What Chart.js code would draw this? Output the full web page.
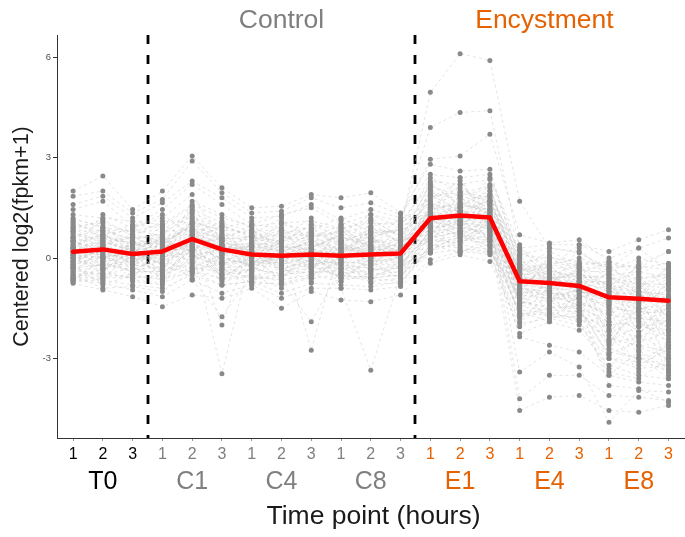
<!DOCTYPE html>
<html>
<head>
<meta charset="utf-8">
<script src="https://cdn.jsdelivr.net/npm/chart.js@4.4.1/dist/chart.umd.min.js"></script>
<style>
html,body{margin:0;padding:0;background:#fff;}
#wrap{width:685px;height:537px;position:relative;}
</style>
</head>
<body>
<div id="wrap"><canvas id="c" width="685" height="537"></canvas></div>
<script>
// ---- categories / labels ----
const groups = ["T0","C1","C4","C8","E1","E4","E8"];
const replicates = ["1","2","3"];
const groupColors = ["#000000","#7f7f7f","#7f7f7f","#7f7f7f","#E66100","#E66100","#E66100"];
const conditionLabels = ["Control","Encystment"];
const yTicks = [-3,0,3,6];
const dividers = [3.5,12.5];

// ---- mean profile (red line) ----
const meanProfile = [0.19,0.26,0.12, 0.2,0.57,0.26, 0.11,0.07,0.11, 0.07,0.11,0.14, 1.19,1.27,1.21, -0.69,-0.74,-0.83, -1.17,-1.21,-1.27];

// ---- individual gene profiles (gray) ----
const typicalGenes = [
 [0.15,0.25,0.05, 0.1,0.55,0.2, 0.05,0.0,0.1, 0.05,0.1,0.15, 1.2,1.25,1.2, -0.7,-0.75,-0.8, -1.15,-1.2,-1.25],
 [0.95,1.05,0.75, 0.85,1.35,0.95, 0.65,0.5,0.75, 0.55,0.75,0.85, 1.85,1.95,1.7, -0.25,-0.4,-0.5, -0.6,-0.75,-0.8],
 [-0.55,-0.45,-0.6, -0.5,-0.15,-0.35, -0.6,-0.5,-0.4, -0.45,-0.35,-0.3, 0.45,0.6,0.55, -1.3,-1.45,-1.5, -1.9,-2.05,-2.15],
 [0.5,0.65,0.4, 0.45,1.05,0.55, 0.35,0.2,0.45, 0.25,0.3,0.4, 1.5,1.6,1.45, -0.45,-0.6,-0.55, -0.9,-1.0,-1.1],
 [-0.2,0.05,-0.25, -0.1,0.3,0.0, -0.2,-0.3,-0.1, -0.15,-0.1,0.0, 0.9,1.05,0.95, -1.0,-1.05,-1.1, -1.5,-1.6,-1.65],
 [1.3,1.2,1.1, 1.0,1.6,1.2, 0.95,1.05,1.1, 0.9,1.05,1.0, 2.3,2.2,2.35, 0.1,0.0,-0.1, -0.2,-0.3,-0.15],
 [-0.7,-0.65,-0.8, -0.9,-0.5,-0.8, -0.7,-0.8,-0.6, -0.5,-0.6,-0.7, 0.3,0.4,0.25, -1.55,-1.65,-1.8, -2.4,-2.6,-2.8],
 [0.0,0.2,-0.1, 0.3,0.8,0.4, 0.2,0.1,0.0, 0.3,0.2,0.1, 1.1,1.2,1.0, -0.8,-0.9,-1.0, -1.1,-1.0,-1.2],
 [0.7,0.5,0.6, 0.6,0.9,0.7, 0.5,0.6,0.5, 0.6,0.5,0.6, 1.6,1.5,1.7, -0.2,-0.3,-0.3, -0.5,-0.4,-0.6],
 [-0.3,-0.2,-0.4, -0.4,0.1,-0.3, -0.2,-0.1,-0.3, -0.3,-0.2,-0.2, 0.8,0.9,0.8, -1.1,-1.2,-1.3, -1.7,-1.8,-1.9],
 [0.4,0.1,0.3, -0.2,0.4,0.6, -0.3,0.2,0.5, -0.1,0.4,0.2, 1.9,1.4,1.1, -0.6,-1.0,-0.7, -0.7,-1.4,-0.9],
 [-0.1,0.5,0.2, 0.6,0.2,-0.2, 0.4,-0.2,0.1, 0.5,-0.3,0.6, 0.7,1.7,1.3, -0.9,-0.5,-1.2, -1.8,-0.8,-1.5],
 [0.8,0.3,-0.2, 0.2,1.1,0.8, -0.1,0.3,-0.3, 0.2,0.8,-0.1, 2.1,1.0,1.6, -0.4,-1.3,-0.9, -1.3,-1.9,-2.3],
 [-0.4,-0.7,0.4, -0.6,0.0,0.3, 0.7,-0.4,0.2, -0.4,0.1,0.5, 1.3,0.8,2.0, -1.4,-0.7,-0.4, -0.4,-1.1,-0.6],
 [0.3,0.9,0.8, 1.0,0.5,-0.1, 0.2,0.8,0.6, 0.8,0.3,-0.2, 0.6,1.9,1.5, -0.1,-1.1,-1.4, -2.0,-2.4,-1.8],
 [1.0,0.8,-0.3, 0.5,1.4,0.0, 0.8,0.4,-0.4, 1.1,0.6,0.3, 1.4,2.4,0.9, -0.3,0.2,-0.2, -0.1,-0.5,-2.6],
 [-0.6,-0.1,0.0, -0.3,-0.4,-0.6, 0.0,-0.6,0.3, -0.2,-0.5,-0.4, 0.2,0.5,0.7, -1.7,-1.5,-1.2, -2.7,-3.0,-3.2],
 [0.6,-0.3,0.5, 0.1,0.7,1.1, -0.4,0.6,0.8, 0.0,0.9,0.7, 1.7,1.1,2.2, -0.9,-0.2,0.0, -0.3,-0.2,0.2],
 [0.2,1.3,0.9, 1.2,1.9,0.5, 1.0,0.9,0.3, 0.7,1.3,0.9, 2.4,2.0,1.8, 0.3,-0.3,0.4, 0.0,0.3,-0.4],
 [-0.5,0.3,-0.7, -0.8,0.5,-0.6, -0.5,-0.9,-0.2, -0.6,0.0,-0.8, 0.4,0.3,0.2, -1.2,-1.8,-1.6, -3.3,-2.2,-2.9],
 [0.1,-0.5,0.6, 0.7,-0.3,0.1, 0.5,0.0,-0.6, 0.4,-0.4,0.3, 1.0,0.7,0.6, -0.6,-0.6,-1.7, -0.8,-1.6,-3.0],
 [1.1,0.6,0.2, -0.4,1.2,0.9, 1.1,-0.2,0.9, 0.3,0.5,1.2, 1.3,1.8,1.3, -1.0,-0.1,-0.3, -1.0,-0.6,-0.5],
 [-0.2,-0.8,-0.5, 0.0,-0.6,0.2, -0.8,0.4,0.0, -0.5,-0.7,-0.6, 0.9,0.2,0.4, -1.6,-1.9,-1.0, -2.2,-3.4,-2.5],
 [0.4,0.7,1.0, 0.9,0.1,-0.5, 0.3,1.1,0.6, 1.0,0.2,0.0, 1.5,1.4,2.4, 0.4,-0.8,-0.6, -0.5,-1.2,-0.7],
 [-0.7,0.0,0.2, -0.7,0.6,0.4, -0.6,-0.3,-0.7, 0.1,-0.6,-0.5, 0.15,1.3,0.8, -1.8,-1.1,-1.9, -3.5,-2.8,-3.4],
 [0.9,0.4,-0.6, 0.3,0.4,1.0, 0.6,0.7,0.2, -0.3,1.1,0.4, 2.0,0.9,1.9, 0.2,-0.5,-1.1, -1.4,-0.1,-1.0],
 [0.0,-0.4,0.3, -0.2,1.5,-0.7, 0.1,-0.7,0.4, -0.7,0.0,-0.1, 1.2,0.6,1.0, -0.5,-1.4,-0.2, -2.5,-1.5,-1.6],
 [0.6,1.1,0.0, 0.6,-0.2,0.6, -0.2,0.5,1.0, 0.6,0.4,1.0, 1.8,2.3,1.2, -1.1,0.1,-0.8, -0.9,-2.0,-2.0],
 [-0.3,0.6,-0.4, 0.2,0.9,-0.1, 0.4,0.3,-0.5, -0.1,-0.2,0.3, 0.5,1.5,0.5, -0.7,-1.6,-1.3, -1.6,-2.9,-3.6],
 [0.3,-0.1,0.7, 0.5,0.3,0.4, -0.3,-0.5,0.7, 0.8,0.7,-0.4, 1.6,0.5,1.1, -1.3,-0.3,-1.5, -2.9,-0.4,-1.9],
 [1.2,0.9,0.5, 0.0,1.7,1.3, 0.9,0.6,1.2, 0.4,1.2,0.6, 2.2,1.6,2.0, 0.0,-0.9,0.3, -0.6,-0.9,-0.3],
 [-0.6,-0.3,-0.1, -0.4,-0.1,-0.5, -0.4,0.1,-0.1, -0.6,-0.1,-0.6, 0.6,0.8,0.3, -1.9,-1.3,-1.7, -2.1,-3.2,-2.7],
 [0.5,0.2,0.9, 1.3,0.7,0.2, 0.7,1.2,0.4, 0.2,0.9,0.5, 1.0,1.4,1.7, -0.4,-0.2,-1.0, -1.2,-0.9,-3.3],
 [-0.1,0.8,-0.2, -0.3,0.2,0.7, 0.2,-0.2,0.8, -0.4,0.6,-0.3, 0.3,1.0,0.9, -1.4,-0.9,-0.7, -2.6,-1.3,-2.4],
 [0.8,0.0,0.4, 0.4,1.0,-0.3, 0.0,0.9,-0.2, 0.9,-0.1,0.7, 1.4,1.2,0.4, -0.2,-1.2,-1.2, -0.7,-2.6,-1.4]
];
const moreTypicalGenes = [
 [0.25,0.45,0.35, 0.55,0.75,0.1, 0.45,0.35,0.25, 0.15,0.45,0.55, 1.35,1.1,1.55, -0.55,-0.95,-0.65, -1.35,-1.05,-1.75],
 [-0.45,-0.15,-0.35, -0.25,0.35,-0.45, -0.35,-0.45,-0.15, -0.2,-0.3,-0.45, 0.65,0.95,0.7, -1.25,-1.0,-1.45, -2.3,-1.7,-2.0],
 [0.65,0.85,0.55, 0.75,1.25,0.6, 0.55,0.75,0.9, 0.45,0.85,0.75, 1.95,1.75,1.85, -0.35,-0.15,-0.45, -0.8,-0.55,-1.3],
 [-0.05,-0.25,-0.05, 0.05,0.15,-0.15, -0.05,-0.15,0.15, 0.15,-0.05,-0.15, 0.75,1.15,0.85, -0.85,-1.15,-0.95, -1.55,-2.2,-1.7],
 [0.35,0.05,0.15, -0.05,0.65,0.35, 0.25,0.45,-0.05, 0.35,0.15,0.25, 1.25,1.45,1.05, -0.65,-0.45,-1.05, -0.95,-1.45,-2.1],
 [-0.25,0.15,-0.15, 0.35,0.45,-0.05, -0.15,0.05,-0.25, -0.05,0.25,-0.05, 1.05,1.35,1.25, -1.05,-0.85,-0.75, -1.9,-1.25,-1.15],
 [1.05,0.7,0.85, 0.65,1.45,1.05, 0.8,0.85,0.65, 0.75,0.95,1.1, 2.15,1.85,2.1, -0.15,0.05,-0.25, -0.35,-0.65,-0.45],
 [-0.6,-0.55,-0.5, -0.65,-0.25,-0.65, -0.55,-0.65,-0.5, -0.7,-0.45,-0.55, 0.35,0.55,0.45, -1.45,-1.55,-1.6, -2.55,-2.35,-3.1],
 [0.45,0.35,-0.05, 0.25,0.25,0.75, 0.6,0.1,0.35, 0.65,0.35,0.0, 1.45,1.65,1.35, -0.75,-0.65,-0.35, -1.25,-1.35,-0.95],
 [0.05,0.6,0.45, 0.45,0.95,0.15, -0.25,0.65,0.55, 0.05,0.55,0.35, 0.85,1.25,1.65, -0.95,-1.35,-0.85, -2.0,-1.9,-2.5],
 [-0.35,-0.5,-0.3, -0.55,0.05,-0.2, 0.15,-0.35,-0.45, -0.35,-0.25,0.05, 0.55,0.45,0.95, -1.35,-1.25,-1.55, -2.85,-2.5,-2.2],
 [0.85,1.15,0.65, 1.1,1.05,0.85, 0.75,0.45,1.0, 0.85,1.15,0.65, 1.75,2.1,1.6, 0.05,-0.55,-0.15, -0.25,-0.85,-0.55],
 [0.2,-0.2,-0.35, 0.0,0.55,0.5, -0.45,-0.05,0.2, -0.25,0.05,-0.35, 1.15,0.85,0.75, -0.5,-0.8,-1.35, -1.65,-1.15,-2.7],
 [-0.15,0.35,0.65, 0.15,-0.05,0.25, 0.35,0.55,-0.35, 0.55,-0.15,0.45, 0.95,1.55,1.45, -1.15,-0.35,-0.6, -0.55,-2.3,-1.2],
 [0.55,-0.05,0.1, 0.8,0.85,-0.25, 0.1,-0.25,0.65, 0.25,0.65,0.85, 1.65,0.75,1.15, -0.25,-1.05,-1.15, -1.05,-0.7,-1.85],
 [-0.55,-0.35,-0.65, -0.75,-0.35,-0.15, -0.65,-0.55,-0.25, -0.55,-0.55,-0.25, 0.25,0.65,0.35, -1.65,-1.7,-1.4, -3.0,-3.1,-2.6],
 [0.75,0.55,0.95, 0.3,1.15,0.65, 0.85,0.25,0.75, 0.45,0.05,0.95, 2.05,1.3,1.75, -0.45,-0.25,-0.85, -0.45,-1.6,-0.75],
 [0.0,0.05,-0.45, -0.35,0.7,0.45, 0.3,-0.35,-0.05, -0.15,0.35,-0.05, 1.25,1.0,0.65, -0.85,-1.25,-0.5, -1.45,-2.65,-3.0],
 [1.15,0.95,0.3, 0.95,1.55,0.35, 0.45,1.0,0.85, 1.2,0.8,0.5, 2.25,1.55,1.9, -0.05,-0.7,-0.4, -0.15,-1.1,-0.25],
 [-0.4,0.25,0.0, -0.45,0.25,-0.55, -0.1,-0.2,0.05, -0.45,-0.4,-0.15, 0.7,0.35,1.2, -1.5,-1.05,-1.25, -2.15,-1.55,-3.5],
 [0.3,0.75,0.25, 0.65,0.05,0.3, 0.0,0.6,0.15, 0.95,0.25,0.3, 1.05,1.85,0.85, -0.3,-0.5,-0.95, -0.65,-0.45,-2.2],
 [-0.65,-0.6,0.1, -0.15,-0.3,-0.4, -0.75,-0.75,-0.55, -0.05,-0.75,-0.75, 0.4,0.15,0.6, -1.75,-1.6,-1.85, -3.4,-3.6,-3.0],
 [0.6,0.4,0.7, 0.1,0.6,0.95, 0.7,0.15,0.3, 0.7,0.6,0.15, 1.55,1.95,2.15, -0.6,-0.05,-0.25, -0.85,-0.25,-0.35],
 [0.1,-0.35,0.2, 0.4,0.35,-0.35, -0.35,0.25,-0.15, 0.3,-0.35,-0.25, 0.6,1.1,0.55, -1.2,-0.75,-1.6, -2.45,-2.05,-1.45],
 [0.9,0.65,0.45, 0.55,0.85,0.55, 0.65,0.8,0.05, 0.1,0.75,0.8, 1.35,2.2,1.4, 0.25,-0.35,-0.7, -0.75,-1.8,-0.65],
 [-0.25,-0.6,-0.55, -0.6,-0.45,0.05, -0.25,-0.6,0.1, -0.6,-0.6,-0.5, 0.2,0.75,0.2, -1.1,-1.75,-1.75, -2.0,-2.75,-3.3]
];
const highGenes = [
 [2.0,2.45,1.45, 2.0,3.05,2.1, 1.5,1.55,1.9, 1.8,1.95,1.35, 2.8,2.6,2.65, -0.3,-0.6,-0.5, -0.8,-1.0,-1.1],
 [1.85,2.0,1.35, 1.75,2.9,1.95, 1.35,1.4,1.8, 1.5,1.65,1.3, 2.5,2.4,2.5, 0.1,0.3,0.2, -0.4,0.0,-0.2],
 [1.6,1.85,1.2, 1.65,2.3,1.8, 1.2,1.25,1.6, 1.15,1.45,1.2, 2.95,3.05,3.7, 0.7,0.45,0.55, -0.1,-0.3,0.2],
 [1.45,1.7,0.95, 1.45,2.2,1.6, 1.0,1.3,1.5, 1.0,1.3,1.1, 3.9,4.35,4.4, 0.3,0.4,0.4, 0.2,0.55,0.85]
];
const lowGenes = [
 [-0.75,-0.95,-1.15, -1.45,-1.1,-1.2, -0.9,-1.5,-1.0, -1.25,-1.3,-1.1, -0.15,0.1,-0.1, -2.05,-1.7,-1.9, -2.8,-3.0,-3.4],
 [-0.65,-0.75,-0.95, -1.15,-0.65,-1.05, -0.8,-1.2,-0.9, -0.9,-0.95,-0.85, -0.05,0.2,0.1, -1.95,-1.8,-2.0, -3.0,-3.3,-3.2],
 [-0.5,-0.9,-0.85, -1.0,-0.4,-0.8, -0.7,-1.05,-0.75, -0.8,-0.85,-0.7, 0.15,0.25,0.15, -2.25,-1.9,-2.15, -3.2,-3.5,-3.6]
];
const controlDipGenes = [
 [0.1,0.0,-0.3, -0.5,0.3,-3.45, 0.2,-0.4,-0.2, 0.0,0.3,0.1, 1.0,1.2,1.4, -0.6,-0.7,-0.7, -1.0,-1.1,-1.3],
 [-0.2,0.4,0.0, 0.6,-0.65,-1.75, -0.5,-0.7,-1.9, -0.3,-0.6,-0.2, 0.8,0.7,1.1, -0.9,-1.0,-1.2, -1.4,-1.7,-1.5],
 [0.3,-0.3,0.5, -0.2,0.5,-2.0, 0.6,0.4,-2.75, 0.5,-0.2,0.4, 1.3,1.5,0.9, -0.5,-0.4,-0.9, -1.1,-1.3,-0.8],
 [0.0,0.2,0.3, 0.2,0.6,-0.8, -0.2,0.0,0.3, -0.9,-3.35,-0.5, 0.9,1.1,1.2, -0.8,-0.6,-1.0, -1.3,-1.5,-1.4]
];
const encystmentOutlierGenes = [
 [0.3,0.5,0.2, 0.4,1.0,0.5, 0.2,0.3,0.4, 0.5,0.6,0.9, 4.95,6.1,5.9, 1.7,0.3,0.15, -0.3,0.3,0.6],
 [0.2,0.1,0.0, 0.1,0.4,0.2, -0.1,0.0,0.2, 0.1,0.0,0.3, 0.6,0.8,0.7, -4.55,-4.15,-4.1, -4.55,-4.6,-4.4],
 [-0.1,0.3,0.1, 0.0,0.5,0.3, 0.3,0.1,0.0, 0.2,0.4,0.0, 0.9,1.0,1.1, -4.2,-3.5,-3.5, -4.1,-4.15,-4.25],
 [0.5,0.2,0.4, 0.3,0.7,0.1, 0.4,0.2,0.5, 0.3,0.1,0.5, 1.3,1.2,1.1, -3.4,-2.8,-3.25, -4.9,-3.95,-4.0],
 [0.1,0.4,-0.2, 0.5,0.2,0.4, 0.0,0.5,0.1, 0.4,0.2,0.6, 0.5,0.7,0.5, -2.35,-2.6,-2.8, -3.5,-3.7,-3.8],
 [-0.3,0.0,0.2, -0.2,0.8,0.6, 0.1,-0.1,0.3, 0.0,0.5,0.2, 1.6,1.4,1.3, -1.3,-1.5,-1.4, -3.8,-3.9,-4.3]
];

// ---- build ----
const nPos = groups.length * replicates.length;
const positions = Array.from({length: nPos}, (_, i) => i + 1);
const tickLabels = positions.map((p, i) => replicates[i % 3]);
const allGenes = [].concat(typicalGenes, moreTypicalGenes, highGenes, lowGenes, controlDipGenes, encystmentOutlierGenes);
const toXY = vals => vals.map((v, i) => ({x: positions[i], y: v}));

const datasets = [];
allGenes.forEach(g => {
  datasets.push({type:'line', data: toXY(g), borderColor:'rgba(190,190,190,0.6)', borderWidth:0.7,
    borderDash:[3,3], pointRadius:0, fill:false, order:3});
});
allGenes.forEach(g => {
  datasets.push({type:'scatter', data: toXY(g), showLine:false, backgroundColor:'#8a8a8a',
    borderWidth:0, pointRadius:2.5, order:2});
});
datasets.push({type:'line', data: toXY(meanProfile), borderColor:'#ff0000', borderWidth:4.5,
  pointRadius:0, fill:false, borderJoinStyle:'round', borderCapStyle:'round', order:0});

const FONT = '"Liberation Sans", Arial, Helvetica, sans-serif';

const annotate = {
  id:'annotate',
  beforeDatasetsDraw(chart){
    const {ctx, chartArea, scales:{x}} = chart;
    ctx.save();
    ctx.strokeStyle = '#000'; ctx.lineWidth = 2.8; ctx.setLineDash([9,11]);
    dividers.forEach(d => {
      const px = Math.round(x.getPixelForValue(d));
      ctx.beginPath(); ctx.moveTo(px, chartArea.top); ctx.lineTo(px, chartArea.bottom); ctx.stroke();
    });
    ctx.restore();
  },
  afterDraw(chart){
    const {ctx, chartArea, scales:{x}} = chart;
    ctx.save();
    ctx.textAlign = 'center'; ctx.textBaseline = 'middle';
    ctx.font = '25px ' + FONT;
    groups.forEach((g, gi) => {
      ctx.fillStyle = groupColors[gi];
      ctx.fillText(g, x.getPixelForValue(gi*3 + 2), 482);
    });
    ctx.font = '26.5px ' + FONT;
    ctx.fillStyle = '#7f7f7f';
    ctx.fillText(conditionLabels[0], x.getPixelForValue(8), 21);
    ctx.fillStyle = '#E66100';
    ctx.fillText(conditionLabels[1], x.getPixelForValue(17) - 5, 21);
    ctx.fillStyle = '#1a1a1a';
    ctx.font = '26.5px ' + FONT;
    ctx.fillText('Time point (hours)', (chartArea.left + chartArea.right)/2 + 3, 517);
    ctx.translate(22, (chartArea.top + chartArea.bottom)/2);
    ctx.rotate(-Math.PI/2);
    ctx.font = '21.5px ' + FONT;
    ctx.fillText('Centered log2(fpkm+1)', 0, 0);
    ctx.restore();
  }
};

new Chart(document.getElementById('c'), {
  data: {datasets},
  options: {
    responsive:false, animation:false, devicePixelRatio:1,
    layout:{autoPadding:false, padding:{left:0, right:1, top:35, bottom:0}},
    plugins:{legend:{display:false}, tooltip:{enabled:false}},
    scales:{
      x:{type:'linear', min:0.46, max:21.52,
        afterBuildTicks: s => { s.ticks = positions.map(v => ({value:v})); },
        afterFit: s => { s.height = 99; s.paddingLeft = 0; s.paddingRight = 0; },
        ticks:{autoSkip:false, maxRotation:0, padding:4,
          callback:(v, i) => tickLabels[i],
          color: ctx => groupColors[Math.floor(ctx.index/3)],
          font:{size:16, family:FONT}},
        grid:{display:true, drawOnChartArea:false, drawTicks:true, tickLength:3, color:'#999'},
        border:{display:true, color:'#333', width:1}
      },
      y:{type:'linear', min:-5.37, max:6.66,
        afterBuildTicks: s => { s.ticks = yTicks.map(v => ({value:v})); },
        afterFit: s => { s.width = 57; },
        ticks:{padding:2, color:'#4d4d4d', font:{size:9.5, family:FONT}},
        grid:{display:true, drawOnChartArea:false, drawTicks:true, tickLength:4, color:'#333'},
        border:{display:true, color:'#333', width:1}
      }
    }
  },
  plugins:[annotate]
});
</script>
</body>
</html>
